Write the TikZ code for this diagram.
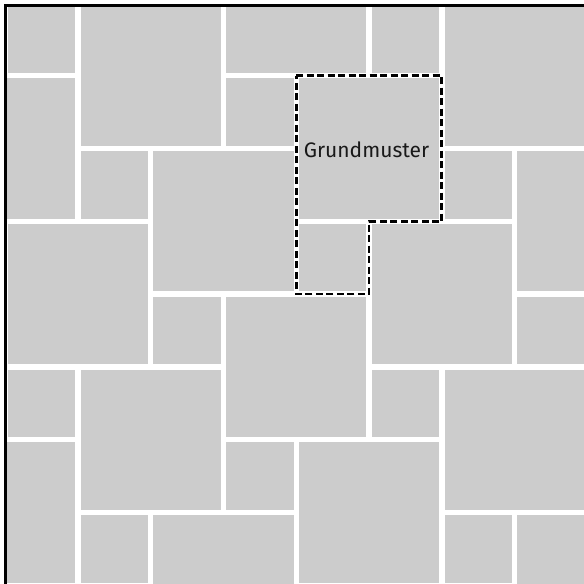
\documentclass[tikz,border=0pt]{standalone}
\usepackage{fontspec}
\setmainfont{Fira Sans}
\definecolor{tilegray}{HTML}{CCCCCC}
\tikzset{
  tile/.style={fill=tilegray,draw=none},
  frameline/.style={draw=black,line width=3pt,line join=miter},
  patternline/.style={draw=black,line width=2.8pt,dash pattern=on 7pt off 3.5pt,line join=miter},
  labeltext/.style={font=\fontsize{21}{25}\selectfont,text=black!90,anchor=base,inner sep=0pt}
}
\begin{document}
\begin{tikzpicture}[x=1pt,y=-1pt]
\useasboundingbox (0,0) rectangle (584,584);
\begin{scope}
  \clip (4,4) rectangle (584,584);
  % large tiles (2x2) and small tiles (1x1), grid cell (column,row,size)
  \foreach \c/\r/\s in {3/-1/2, 4/1/2, 5/3/2, 6/5/2, 7/7/2, 1/0/2, 2/2/2, 3/4/2, 4/6/2,
                        -1/1/2, 0/3/2, 1/5/2, 2/7/2, -1/6/2, 6/0/2, 7/2/2,
                        0/0/1, 5/0/1, 3/1/1, 1/2/1, 6/2/1, 4/3/1, 2/4/1, 7/4/1,
                        0/5/1, 5/5/1, 3/6/1, 1/7/1, 6/7/1}
  {
    \fill[tile] ({5+72.8*\c+2.7},{2.8+72.8*\r+2.7}) rectangle
                ({5+72.8*(\c+\s)-2.7},{2.8+72.8*(\r+\s)-2.7});
  }
\end{scope}
% frame on left and top
\coordinate (fb) at (5.5,584);
\coordinate (fc) at (5.5,5.4);
\coordinate (fr) at (584,5.4);
\draw[frameline] (fb) -- (fc) -- (fr);
% Grundmuster outline
\coordinate (g1) at (296.2,75.6);
\coordinate (g2) at (441.8,75.6);
\coordinate (g3) at (441.8,221.2);
\coordinate (g4) at (369,221.2);
\coordinate (g5) at (369,294);
\coordinate (g6) at (296.2,294);
\draw[patternline] (g1) -- (g2) -- (g3) -- (g4) -- (g5) -- (g6) -- cycle;
\node[labeltext] (label) at (366.5,157) {Grundmuster};
\end{tikzpicture}
\end{document}
